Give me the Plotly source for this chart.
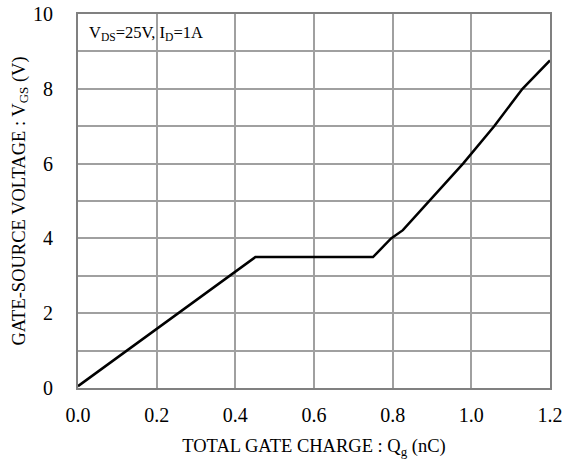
import plotly.graph_objects as go

qg = [0.0, 0.451, 0.75, 0.796, 0.826, 0.85, 0.895, 0.979, 1.058, 1.13, 1.2]
vgs = [0.05, 3.5, 3.5, 4.0, 4.22, 4.5, 5.0, 6.0, 7.0, 8.0, 8.76]

x_ticks = [0.0, 0.2, 0.4, 0.6, 0.8, 1.0, 1.2]
x_labels = ["0.0", "0.2", "0.4", "0.6", "0.8", "1.0", "1.2"]
y_ticks = [0, 2, 4, 6, 8, 10]
y_labels = ["0", "2", "4", "6", "8", "10"]

font = "Liberation Serif, Times New Roman, serif"

fig = go.Figure()
fig.add_trace(go.Scatter(x=qg, y=vgs, mode="lines",
                         line=dict(color="black", width=2.5), showlegend=False))

fig.update_layout(
    width=562, height=460,
    margin=dict(l=78, r=12, t=14, b=72),
    plot_bgcolor="white", paper_bgcolor="white",
    font=dict(family=font, color="black"),
    xaxis=dict(range=[0, 1.2], tickvals=x_ticks, ticktext=x_labels,
               automargin=False, ticklabeloverflow="allow",
               showgrid=True, gridcolor="#a0a0a0", gridwidth=1.5,
               showline=True, linecolor="#808080", linewidth=2, mirror=True,
               zeroline=False, tickfont=dict(size=20, family=font),
               ticks="", ticklabelstandoff=8,
               title=dict(text="TOTAL GATE CHARGE : Q<sub>g</sub> (nC)",
                          font=dict(size=18.5, family=font), standoff=14)),
    yaxis=dict(range=[0, 10], tickvals=y_ticks, ticktext=y_labels,
               automargin=False, ticklabeloverflow="allow",
               showgrid=True, gridcolor="#a0a0a0", gridwidth=1.5,
               minor=dict(tick0=0, dtick=1, showgrid=True,
                          gridcolor="#a0a0a0", gridwidth=1.5, ticks=""),
               showline=True, linecolor="#808080", linewidth=2, mirror=True,
               zeroline=False, tickfont=dict(size=20, family=font),
               ticks="", ticklabelstandoff=19,
               title=dict(text="GATE-SOURCE VOLTAGE : V<sub>GS</sub> (V)",
                          font=dict(size=18.5, family=font), standoff=3)),
    annotations=[dict(text="V<sub>DS</sub>=25V, I<sub>D</sub>=1A",
                      xref="paper", yref="paper", x=0.02, y=0.95,
                      xanchor="left", yanchor="middle", showarrow=False,
                      font=dict(size=16.5, family=font))],
)

fig.write_html("out.html", config={"displayModeBar": False},
               post_script="document.body.style.margin='0px';")
